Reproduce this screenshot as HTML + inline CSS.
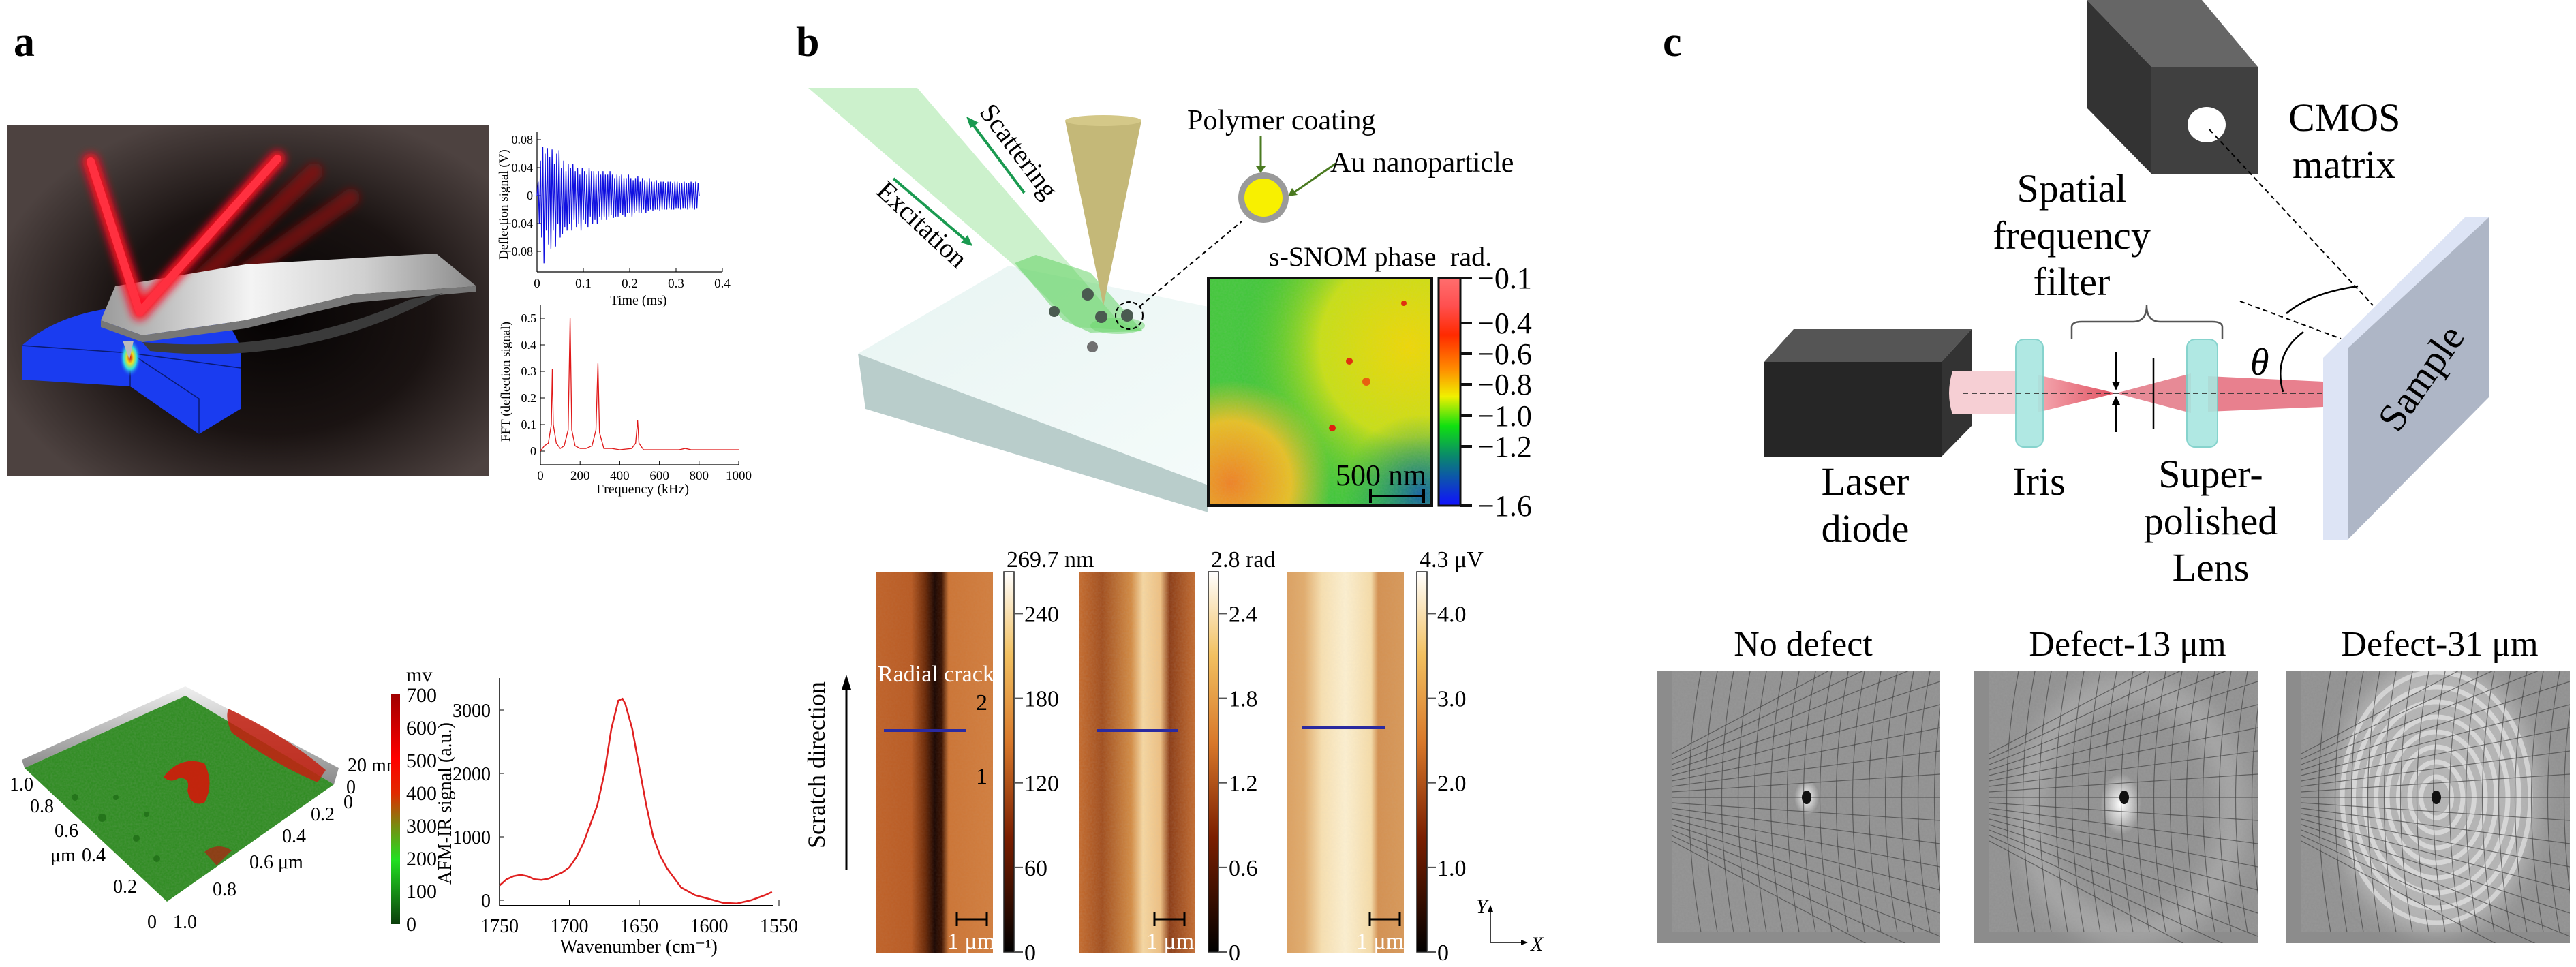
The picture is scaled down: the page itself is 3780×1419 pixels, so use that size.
<!DOCTYPE html>
<html><head><meta charset="utf-8"><style>
html,body{margin:0;padding:0;background:#fff;font-family:"Liberation Serif",serif;}
svg{display:block;}
svg text{font-family:"Liberation Serif",serif;}
</style></head><body>
<svg id="fig" width="3780" height="1419" viewBox="0 0 3780 1419" xmlns="http://www.w3.org/2000/svg" font-family="Liberation Serif, serif">
<defs>
<radialGradient id="bgA" cx="0.55" cy="0.55" r="0.6"><stop offset="0" stop-color="#050303"/><stop offset="0.55" stop-color="#1a1312"/><stop offset="1" stop-color="#4d4240"/></radialGradient>
<linearGradient id="cantTop" x1="0" y1="0" x2="1" y2="0"><stop offset="0" stop-color="#9a9a9a"/><stop offset="0.4" stop-color="#f4f4f4"/><stop offset="0.7" stop-color="#d0d0d0"/><stop offset="1" stop-color="#8a8a8a"/></linearGradient>
<radialGradient id="hot" cx="0.5" cy="0.5" r="0.5"><stop offset="0" stop-color="#d01010"/><stop offset="0.3" stop-color="#f0e020"/><stop offset="0.6" stop-color="#30e0e0"/><stop offset="1" stop-color="#1a3cf0" stop-opacity="0"/></radialGradient>
<linearGradient id="mvBar" x1="0" y1="1" x2="0" y2="0"><stop offset="0" stop-color="#0b3d0b"/><stop offset="0.28" stop-color="#22e022"/><stop offset="0.43" stop-color="#7a8a10"/><stop offset="0.57" stop-color="#e02a00"/><stop offset="0.72" stop-color="#ff0000"/><stop offset="1" stop-color="#a00000"/></linearGradient>
<linearGradient id="wall" x1="0" y1="0" x2="0" y2="1"><stop offset="0" stop-color="#f0f0f0"/><stop offset="1" stop-color="#8a8a8a"/></linearGradient>
<linearGradient id="snomBar" x1="0" y1="0" x2="0" y2="1"><stop offset="0" stop-color="#ff6e6e"/><stop offset="0.12" stop-color="#ff5050"/><stop offset="0.25" stop-color="#ff2a00"/><stop offset="0.4" stop-color="#ff8c00"/><stop offset="0.52" stop-color="#f0f000"/><stop offset="0.65" stop-color="#10e010"/><stop offset="0.78" stop-color="#0a8a6a"/><stop offset="1" stop-color="#1010ff"/></linearGradient>
<linearGradient id="afmBar" x1="0" y1="1" x2="0" y2="0"><stop offset="0" stop-color="#000"/><stop offset="0.3" stop-color="#7a1e00"/><stop offset="0.55" stop-color="#d8782a"/><stop offset="0.78" stop-color="#f2c060"/><stop offset="1" stop-color="#fff"/></linearGradient>
<linearGradient id="m1" x1="0" y1="0" x2="1" y2="0"><stop offset="0" stop-color="#c06228"/><stop offset="0.3" stop-color="#b85a22"/><stop offset="0.42" stop-color="#6a2806"/><stop offset="0.5" stop-color="#1a0500"/><stop offset="0.56" stop-color="#3a1200"/><stop offset="0.62" stop-color="#cc7434"/><stop offset="1" stop-color="#d27e3e"/></linearGradient>
<linearGradient id="m2" x1="0" y1="0" x2="1" y2="0"><stop offset="0" stop-color="#c66a2a"/><stop offset="0.2" stop-color="#a04a18"/><stop offset="0.45" stop-color="#d48a40"/><stop offset="0.55" stop-color="#f8d8a0"/><stop offset="0.7" stop-color="#f0c080"/><stop offset="0.78" stop-color="#8a3810"/><stop offset="1" stop-color="#c46a2c"/></linearGradient>
<linearGradient id="m3" x1="0" y1="0" x2="1" y2="0"><stop offset="0" stop-color="#dca060"/><stop offset="0.15" stop-color="#e2ac6c"/><stop offset="0.3" stop-color="#f8e0b0"/><stop offset="0.5" stop-color="#fdf0d0"/><stop offset="0.72" stop-color="#f6dca8"/><stop offset="0.78" stop-color="#d49050"/><stop offset="1" stop-color="#d89858"/></linearGradient>
<radialGradient id="snomA" cx="0.9" cy="0.3" r="0.8"><stop offset="0" stop-color="#f0d800"/><stop offset="0.5" stop-color="#c8e010"/><stop offset="1" stop-color="#20c030" stop-opacity="0"/></radialGradient>
<radialGradient id="snomB" cx="0.1" cy="0.9" r="0.45"><stop offset="0" stop-color="#f08020"/><stop offset="0.6" stop-color="#e8c020"/><stop offset="1" stop-color="#e8c020" stop-opacity="0"/></radialGradient>
<radialGradient id="snomC" cx="0.95" cy="0.95" r="0.35"><stop offset="0" stop-color="#1060a0"/><stop offset="1" stop-color="#10a060" stop-opacity="0"/></radialGradient>
<linearGradient id="blockTop" x1="0" y1="0" x2="1" y2="1"><stop offset="0" stop-color="#e8f4f2"/><stop offset="1" stop-color="#f4fbfa"/></linearGradient>
<linearGradient id="beamRed" x1="0" y1="0" x2="1" y2="0"><stop offset="0" stop-color="#f4a8b0"/><stop offset="1" stop-color="#e05060"/></linearGradient>
<radialGradient id="spot1" cx="0.5" cy="0.5" r="0.5"><stop offset="0" stop-color="#fff"/><stop offset="1" stop-color="#fff" stop-opacity="0"/></radialGradient>
<filter id="noise" x="0" y="0" width="1" height="1"><feTurbulence type="fractalNoise" baseFrequency="0.35" numOctaves="2" seed="3"/><feColorMatrix type="matrix" values="0 0 0 0 0.5  0 0 0 0 0.5  0 0 0 0 0.5  0 0 0 0.35 0"/><feComposite in2="SourceGraphic" operator="in"/></filter>
<filter id="blur6"><feGaussianBlur stdDeviation="6"/></filter>
<filter id="blur15"><feGaussianBlur stdDeviation="15"/></filter>
<clipPath id="cpS"><rect x="1773" y="408" width="328" height="334"/></clipPath>
<clipPath id="cpC0"><rect x="2431" y="985" width="416" height="399"/></clipPath>
<clipPath id="cpC1"><rect x="2897" y="985" width="416" height="399"/></clipPath>
<clipPath id="cpC2"><rect x="3355" y="985" width="416" height="399"/></clipPath>
</defs>

<text x="20" y="82" font-size="62" font-weight="bold">a</text>
<text x="1168" y="82" font-size="62" font-weight="bold">b</text>
<text x="2440" y="82" font-size="62" font-weight="bold">c</text>

<g>
<rect x="11" y="183" width="706" height="516" fill="url(#bgA)"/>
<path d="M32,507 Q120,430 300,455 Q360,480 353,540 L353,600 L292,637 L191,567 L32,557 Z" fill="#1a3cf0"/>
<path d="M32,507 L191,518 L353,540 M191,518 L191,567 M191,518 L292,585 L292,637" stroke="#0a1a70" stroke-width="1.5" fill="none"/>
<ellipse cx="191" cy="525" rx="16" ry="28" fill="url(#hot)"/>
<g filter="url(#blur6)"><line x1="461" y1="252" x2="230" y2="470" stroke="#8a1010" stroke-width="26" stroke-linecap="round" opacity="0.8"/><line x1="515" y1="290" x2="260" y2="470" stroke="#8a1010" stroke-width="26" stroke-linecap="round" opacity="0.7"/></g>
<path d="M148,470 L169,420 L360,388 L640,372 L699,420 L520,432 L360,470 L209,492 Z" fill="url(#cantTop)"/>
<path d="M148,470 L209,492 L360,470 L520,432 L699,420 L699,428 L520,444 L360,482 L209,502 L148,480 Z" fill="#777"/>
<path d="M209,502 Q420,520 600,440 L650,430 Q450,540 220,515 Z" fill="#3a3a3a"/>
<polygon points="180,500 196,500 190,528" fill="#bbb"/>
<g filter="url(#blur6)"><line x1="133" y1="237" x2="205" y2="458" stroke="#ff1020" stroke-width="24" stroke-linecap="round"/><line x1="407" y1="233" x2="205" y2="458" stroke="#ff1020" stroke-width="24" stroke-linecap="round"/></g>
<line x1="133" y1="237" x2="205" y2="458" stroke="#ff3040" stroke-width="12" stroke-linecap="round"/>
<line x1="407" y1="233" x2="205" y2="458" stroke="#ff3040" stroke-width="12" stroke-linecap="round"/>
</g>

<g id="defl"></g>
<g id="fft"></g>

<g>
<polygon points="32,1115 272,1007 272,1021 36,1127" fill="url(#wall)"/>
<polygon points="272,1007 497,1127 490,1151 272,1021" fill="url(#wall)"/>
<polygon points="36,1127 272,1021 490,1151 245,1323" fill="#2a8a1c"/>
<polygon points="36,1127 272,1021 490,1151 245,1323" fill="#3aa020" filter="url(#noise)" opacity="0.6"/>
<g fill="#1c6a14" opacity="0.7"><circle cx="110" cy="1170" r="5"/><circle cx="150" cy="1200" r="6"/><circle cx="200" cy="1230" r="5"/><circle cx="170" cy="1170" r="4"/><circle cx="230" cy="1260" r="5"/><circle cx="215" cy="1195" r="4"/></g>
<path d="M335,1040 Q420,1080 478,1130 L466,1148 Q400,1120 340,1075 Q330,1055 335,1040 Z" fill="#c42010" opacity="0.85"/>
<path d="M240,1140 Q265,1108 300,1120 Q315,1150 300,1178 Q280,1185 275,1160 Q280,1140 262,1142 Q250,1150 240,1140 Z" fill="#d01a0a" opacity="0.9"/>
<path d="M300,1250 Q320,1235 340,1248 L318,1270 Z" fill="#b02010" opacity="0.7"/>
<g font-size="28" fill="#000">
<text x="14" y="1160">1.0</text><text x="44" y="1192">0.8</text><text x="80" y="1228">0.6</text><text x="74" y="1264">μm</text><text x="120" y="1264">0.4</text><text x="166" y="1310">0.2</text><text x="216" y="1362">0</text><text x="254" y="1362">1.0</text>
<text x="456" y="1204">0.2</text><text x="414" y="1236">0.4</text><text x="366" y="1274">0.6 μm</text><text x="312" y="1314">0.8</text>
<text x="510" y="1132">20 mm</text><text x="508" y="1164">0</text><text x="504" y="1186">0</text>
</g>
<rect x="574" y="1019" width="13" height="337" fill="url(#mvBar)"/>
<g font-size="30" fill="#000">
<text x="596" y="1000">mv</text>
<text x="596" y="1030">700</text><text x="596" y="1078">600</text><text x="596" y="1126">500</text><text x="596" y="1174">400</text><text x="596" y="1222">300</text><text x="596" y="1270">200</text><text x="596" y="1318">100</text><text x="596" y="1366">0</text>
</g>
</g>
<g id="afmir"></g>

<g>
<polygon points="1259,519 1480,390 1773,450 1773,712" fill="url(#blockTop)"/>
<polygon points="1259,519 1773,712 1773,752 1270,600" fill="#b9cdcb"/>
<polygon points="1186,129 1346,129 1640,470 1677,486 1579,480 1489,390" fill="#8fe08f" opacity="0.45"/>
<polygon points="1489,386 1520,374 1600,400 1677,486 1600,488 1560,470" fill="#5ad05a" opacity="0.5"/>
<ellipse cx="1640" cy="478" rx="40" ry="12" fill="#6ad66a" opacity="0.5"/>
<polygon points="1563,177 1675,177 1619,449" fill="#c4b878"/>
<ellipse cx="1619" cy="177" rx="56" ry="8" fill="#d4c888"/>
<g fill="#4a5a50"><circle cx="1596" cy="432" r="9"/><circle cx="1547" cy="457" r="8"/><circle cx="1616" cy="465" r="9"/><circle cx="1654" cy="463" r="9"/><circle cx="1603" cy="509" r="8" fill="#707070"/></g>
<circle cx="1657" cy="463" r="20" fill="none" stroke="#000" stroke-width="2" stroke-dasharray="6,4"/>
<line x1="1672" y1="450" x2="1822" y2="325" stroke="#000" stroke-width="2" stroke-dasharray="7,5"/>
<line x1="1503" y1="283" x2="1424" y2="178" stroke="#1a9a50" stroke-width="4"/><polygon points="1418,171 1436,180 1424,188" fill="#1a9a50"/>
<line x1="1311" y1="262" x2="1420" y2="355" stroke="#1a9a50" stroke-width="4"/><polygon points="1427,361 1410,356 1420,345" fill="#1a9a50"/>
<text x="1436" y="165" font-size="40" transform="rotate(53 1436 165)">Scattering</text>
<text x="1284" y="283" font-size="40" transform="rotate(43 1284 283)">Excitation</text>
<circle cx="1854" cy="290" r="37" fill="#9a9a9a"/><circle cx="1854" cy="290" r="28" fill="#f8f000"/>
<line x1="1850" y1="200" x2="1850" y2="248" stroke="#4a7a20" stroke-width="3"/><polygon points="1843,244 1857,244 1850,254" fill="#4a7a20"/>
<line x1="1960" y1="240" x2="1898" y2="283" stroke="#4a7a20" stroke-width="3"/><polygon points="1890,288 1896,276 1904,286" fill="#4a7a20"/>
<text x="1742" y="190" font-size="42">Polymer coating</text>
<text x="1952" y="252" font-size="42">Au nanoparticle</text>
</g>
<g>
<text x="1862" y="390" font-size="40">s-SNOM phase</text>
<text x="2128" y="390" font-size="40">rad.</text>
<g clip-path="url(#cpS)">
<rect x="1773" y="408" width="328" height="334" fill="#40c838"/>
<rect x="1773" y="408" width="328" height="334" fill="url(#snomA)"/>
<rect x="1773" y="408" width="328" height="334" fill="url(#snomB)"/>
<rect x="1773" y="408" width="328" height="334" fill="url(#snomC)"/>
<rect x="1773" y="408" width="328" height="334" fill="#888" filter="url(#noise)" opacity="0.5"/>
<circle cx="2060" cy="445" r="4" fill="#e03010"/><circle cx="1980" cy="530" r="5" fill="#e03010"/><circle cx="2005" cy="560" r="6" fill="#e86010"/><circle cx="1955" cy="628" r="5" fill="#e02010"/>
</g>
<rect x="1773" y="408" width="328" height="334" fill="none" stroke="#111" stroke-width="4"/>
<text x="1960" y="712" font-size="44">500 nm</text>
<path d="M2011,728 L2089,728 M2011,718 L2011,738 M2089,718 L2089,738" stroke="#000" stroke-width="4"/>
<rect x="2111" y="408" width="32" height="334" fill="url(#snomBar)" stroke="#111" stroke-width="3"/>
<g stroke="#111" stroke-width="4">
<line x1="2143" y1="408" x2="2160" y2="408"/><line x1="2143" y1="474" x2="2160" y2="474"/><line x1="2143" y1="519" x2="2160" y2="519"/><line x1="2143" y1="564" x2="2160" y2="564"/><line x1="2143" y1="610" x2="2160" y2="610"/><line x1="2143" y1="655" x2="2160" y2="655"/><line x1="2143" y1="742" x2="2160" y2="742"/>
</g>
<g font-size="44" fill="#000">
<text x="2168" y="423">−0.1</text><text x="2168" y="489">−0.4</text><text x="2168" y="534">−0.6</text><text x="2168" y="579">−0.8</text><text x="2168" y="625">−1.0</text><text x="2168" y="670">−1.2</text><text x="2168" y="757">−1.6</text>
</g>
</g>

<g>
<line x1="1242" y1="1276" x2="1242" y2="1010" stroke="#000" stroke-width="3"/><polygon points="1235,1012 1249,1012 1242,990" fill="#000"/>
<text x="1210" y="1245" font-size="36" transform="rotate(-90 1210 1245)">Scratch direction</text>
<rect x="1286" y="839" width="171" height="559" fill="url(#m1)"/>
<rect x="1286" y="839" width="171" height="559" fill="#888" filter="url(#noise)" opacity="0.25"/>
<rect x="1583" y="839" width="171" height="559" fill="url(#m2)"/>
<rect x="1583" y="839" width="171" height="559" fill="#888" filter="url(#noise)" opacity="0.5"/>
<rect x="1888" y="839" width="172" height="559" fill="url(#m3)"/>
<rect x="1888" y="839" width="172" height="559" fill="#888" filter="url(#noise)" opacity="0.3"/>
<text x="1288" y="1000" font-size="34" fill="#fff">Radial crack</text>
<text x="1432" y="1042" font-size="34">2</text><text x="1432" y="1150" font-size="34">1</text>
<line x1="1297" y1="1072" x2="1417" y2="1072" stroke="#2a2aa0" stroke-width="4"/>
<line x1="1609" y1="1072" x2="1729" y2="1072" stroke="#2a2aa0" stroke-width="4"/>
<line x1="1910" y1="1068" x2="2032" y2="1068" stroke="#2a2aa0" stroke-width="4"/>
<g stroke="#000" stroke-width="3"><path d="M1404,1349 L1448,1349 M1404,1339 L1404,1359 M1448,1339 L1448,1359"/><path d="M1694,1349 L1738,1349 M1694,1339 L1694,1359 M1738,1339 L1738,1359"/><path d="M2010,1349 L2054,1349 M2010,1339 L2010,1359 M2054,1339 L2054,1359"/></g>
<g font-size="34" fill="#fff"><text x="1390" y="1392">1 μm</text><text x="1682" y="1392">1 μm</text><text x="1990" y="1392">1 μm</text></g>
<g id="afmbars"></g>
<line x1="2187" y1="1383" x2="2187" y2="1335" stroke="#000" stroke-width="1.5"/><polygon points="2183,1338 2191,1338 2187,1328" fill="#000"/>
<line x1="2187" y1="1383" x2="2234" y2="1383" stroke="#000" stroke-width="1.5"/><polygon points="2232,1379 2232,1387 2242,1383" fill="#000"/>
<text x="2166" y="1340" font-size="30" font-style="italic">Y</text><text x="2246" y="1395" font-size="30" font-style="italic">X</text>
</g>

<g>
<polygon points="3062,0 3231,0 3313,98 3157,98" fill="#666"/>
<polygon points="3062,0 3157,98 3157,255 3062,158" fill="#333"/>
<rect x="3157" y="98" width="156" height="157" fill="#404040"/>
<ellipse cx="3238" cy="183" rx="28" ry="26" fill="#fff"/>
<text x="3358" y="192" font-size="58">CMOS</text><text x="3364" y="261" font-size="58">matrix</text>
<line x1="3242" y1="190" x2="3482" y2="448" stroke="#000" stroke-width="2" stroke-dasharray="7,5"/>
<line x1="3287" y1="442" x2="3435" y2="497" stroke="#000" stroke-width="2" stroke-dasharray="7,5"/>
<text x="3040" y="296" font-size="58" text-anchor="middle">Spatial</text>
<text x="3040" y="365" font-size="58" text-anchor="middle">frequency</text>
<text x="3040" y="433" font-size="58" text-anchor="middle">filter</text>
<path d="M3040,497 L3040,480 Q3040,472 3055,472 L3130,472 Q3150,472 3150,448 Q3150,472 3170,472 L3246,472 Q3261,472 3261,480 L3261,497" fill="none" stroke="#555" stroke-width="2.5"/>
<polygon points="2589,531 2632,483 2893,483 2849,531" fill="#555"/>
<polygon points="2849,531 2893,483 2893,625 2849,670" fill="#333"/>
<rect x="2589" y="531" width="260" height="139" fill="#262626"/>
<path d="M2865,545 L2960,545 L2960,608 L2865,608 Q2855,577 2865,545 Z" fill="#f6cfd4"/>
<polygon points="2990,550 3105,577 2990,605" fill="url(#beamRed)"/>
<polygon points="3105,577 3215,548 3215,606" fill="#e78a96"/>
<polygon points="3240,552 3409,560 3409,597 3240,604" fill="#e8808e"/>
<rect x="2958" y="498" width="40" height="158" rx="12" fill="#a8e6e0" stroke="#7acfc8" stroke-width="2" opacity="0.9"/>
<rect x="3209" y="498" width="45" height="158" rx="12" fill="#a8e6e0" stroke="#7acfc8" stroke-width="2" opacity="0.9"/>
<line x1="2880" y1="577" x2="3409" y2="577" stroke="#333" stroke-width="1.8" stroke-dasharray="8,5"/>
<g stroke="#000" stroke-width="2.5"><line x1="3105" y1="517" x2="3105" y2="570"/><line x1="3105" y1="584" x2="3105" y2="634"/><line x1="3160" y1="525" x2="3160" y2="629"/></g>
<polygon points="3099,560 3111,560 3105,573" fill="#000"/><polygon points="3099,594 3111,594 3105,581" fill="#000"/>
<polygon points="3409,525 3617,319 3652,319 3445,511 3445,792 3409,792" fill="#dde4f5"/>
<polygon points="3445,511 3652,319 3652,583 3445,792" fill="#aeb6c6"/>
<text x="3552" y="574" font-size="58" text-anchor="middle" transform="rotate(-55 3552 554)">Sample</text>
<path d="M3355,460 Q3390,430 3460,420" fill="none" stroke="#000" stroke-width="2.5"/>
<path d="M3350,575 Q3335,520 3380,487" fill="none" stroke="#000" stroke-width="2.5"/>
<text x="3302" y="550" font-size="56" font-style="italic">θ</text>
<text x="2737" y="726" font-size="58" text-anchor="middle">Laser</text><text x="2737" y="795" font-size="58" text-anchor="middle">diode</text>
<text x="2992" y="726" font-size="58" text-anchor="middle">Iris</text>
<text x="3244" y="715" font-size="58" text-anchor="middle">Super-</text><text x="3244" y="784" font-size="58" text-anchor="middle">polished</text><text x="3244" y="852" font-size="58" text-anchor="middle">Lens</text>
</g>

<g font-size="52" text-anchor="middle">
<text x="2646" y="962">No defect</text>
<text x="3122" y="962">Defect-13 μm</text>
<text x="3580" y="962">Defect-31 μm</text>
</g>
<g id="cimgs"></g>

<script>
const deflStep = 0.0025;
const deflValues = [0,0.02,-0.04,0.05,-0.06,0.07,-0.097,0.06,-0.05,0.068,
-0.07,0.055,-0.076,0.066,-0.05,0.045,-0.073,0.06,-0.04,0.065,
-0.06,0.04,-0.055,0.05,-0.045,0.035,-0.05,0.045,-0.04,0.04,
-0.05,0.045,-0.035,0.035,-0.045,0.04,-0.04,0.03,-0.05,0.04,
-0.035,0.035,-0.04,0.03,-0.045,0.04,-0.03,0.035,-0.04,0.035,
-0.035,0.03,-0.04,0.035,-0.03,0.03,-0.035,0.035,-0.03,0.03,
-0.035,0.03,-0.03,0.035,-0.028,0.03,-0.032,0.025,-0.03,0.03,
-0.03,0.028,-0.025,0.03,-0.028,0.025,-0.03,0.025,-0.025,0.03,
-0.025,0.025,-0.03,0.022,-0.025,0.025,-0.022,0.028,-0.025,0.02,
-0.025,0.025,-0.02,0.022,-0.025,0.02,-0.022,0.025,-0.02,0.02,
-0.022,0.02,-0.02,0.022,-0.02,0.018,-0.022,0.02,-0.02,0.02,
-0.02,0.018,-0.02,0.02,-0.018,0.02,-0.02,0.018,-0.02,0.02,
-0.018,0.02,-0.018,0.018,-0.02,0.018,-0.018,0.02,-0.018,0.018,
-0.02,0.018,-0.018,0.02,-0.018,0.018,-0.02,0.02,-0.018,0.018,0];
const deflXTicks = [0,0.1,0.2,0.3,0.4];
const deflYTicks = [0.08,0.04,0,-0.04,-0.08];
const deflYLabels = ["0.08","0.04","0","−0.04","−0.08"];
const fftFreq = [0,20,40,55,60,65,80,100,120,140,150,158,175,200,230,260,280,290,298,320,360,400,460,480,490,497,520,600,700,730,760,850,1000];
const fftAmp = [0,0.02,0.03,0.1,0.31,0.1,0.03,0.01,0.02,0.08,0.5,0.08,0.02,0.01,0.01,0.02,0.08,0.33,0.07,0.01,0.01,0.005,0.01,0.03,0.115,0.03,0.005,0.005,0.005,0.01,0.005,0.005,0.005];
const fftXTicks = [0,200,400,600,800,1000];
const fftYTicks = [0,0.1,0.2,0.3,0.4,0.5];
const irWave = [1750,1745,1740,1735,1730,1725,1720,1715,1710,1705,1700,1695,1690,1685,1680,1675,1670,1665,1662,1660,1655,1650,1645,1640,1635,1630,1620,1610,1600,1590,1580,1570,1560,1555];
const irSignal = [230,330,380,400,380,330,320,340,390,440,520,680,900,1200,1500,2000,2700,3150,3180,3100,2700,2100,1500,1000,700,500,200,80,20,-40,-50,0,80,130];
const irXTicks = [1750,1700,1650,1600,1550];
const irYTicks = [0,1000,2000,3000];
const afmBarTicks = [0,60,120,180,240];
const afmBarLabels = [["0","60","120","180","240"],["0","0.6","1.2","1.8","2.4"],["0","1.0","2.0","3.0","4.0"]];
const afmBarTitles = ["269.7 nm","2.8 rad","4.3 μV"];

const NS="http://www.w3.org/2000/svg";
function mk(tag,attrs,parent){const e=document.createElementNS(NS,tag);for(const k in attrs)e.setAttribute(k,attrs[k]);parent.appendChild(e);return e;}
function txt(parent,x,y,s,size,anchor){const t=mk('text',{x:x,y:y,'font-size':size,'text-anchor':anchor||'middle'},parent);t.textContent=s;return t;}

(function(){
 const g=document.getElementById('defl');
 const X=t=>788+t/0.4*272, Y=v=>287-v*1025;
 mk('line',{x1:788,y1:193,x2:788,y2:399,stroke:'#000','stroke-width':1.2},g);
 mk('line',{x1:788,y1:399,x2:1060,y2:399,stroke:'#000','stroke-width':1.2},g);
 deflXTicks.forEach(t=>{mk('line',{x1:X(t),y1:399,x2:X(t),y2:393,stroke:'#000'},g);txt(g,X(t),422,String(t),19);});
 deflYTicks.forEach((v,i)=>{mk('line',{x1:788,y1:Y(v),x2:794,y2:Y(v),stroke:'#000'},g);txt(g,782,Y(v)+6,deflYLabels[i],18,'end');});
 let d='';deflValues.forEach((v,i)=>{d+=(i?'L':'M')+X(i*deflStep).toFixed(1)+','+Y(v).toFixed(1);});
 const p=mk('path',{d:d,fill:'none',stroke:'#1010e0','stroke-width':1.3},g);
 
 
 txt(g,937,447,'Time (ms)',20);
 const t=txt(g,745,300,'Deflection signal (V)',19);t.setAttribute('transform','rotate(-90 745 300)');
})();
(function(){
 const g=document.getElementById('fft');
 const X=f=>793+f/1000*291, Y=v=>662-v*390;
 mk('line',{x1:793,y1:447,x2:793,y2:682,stroke:'#000','stroke-width':1.2},g);
 mk('line',{x1:793,y1:682,x2:1084,y2:682,stroke:'#000','stroke-width':1.2},g);
 fftXTicks.forEach(f=>{mk('line',{x1:X(f),y1:682,x2:X(f),y2:676,stroke:'#000'},g);txt(g,X(f),704,String(f),19);});
 fftYTicks.forEach(v=>{mk('line',{x1:793,y1:Y(v),x2:799,y2:Y(v),stroke:'#000'},g);txt(g,787,Y(v)+6,String(v),18,'end');});
 let d='';fftFreq.forEach((f,i)=>{d+=(i?'L':'M')+X(f).toFixed(1)+','+Y(fftAmp[i]).toFixed(1);});
 const p=mk('path',{d:d,fill:'none',stroke:'#e01818','stroke-width':1.3},g);
 
 
 txt(g,943,724,'Frequency (kHz)',20);
 const t=txt(g,748,560,'FFT (deflection signal)',19);t.setAttribute('transform','rotate(-90 748 560)');
})();
(function(){
 const g=document.getElementById('afmir');
 const X=w=>733+(1750-w)/50*102.5, Y=v=>1321-v*0.093;
 mk('line',{x1:733,y1:995,x2:733,y2:1329,stroke:'#000','stroke-width':1.5},g);
 mk('line',{x1:733,y1:1329,x2:1135,y2:1329,stroke:'#000','stroke-width':2},g);
 irXTicks.forEach(w=>{mk('line',{x1:X(w),y1:1329,x2:X(w),y2:1321,stroke:'#000'},g);txt(g,X(w),1368,String(w),28);});
 irYTicks.forEach(v=>{mk('line',{x1:733,y1:Y(v),x2:740,y2:Y(v),stroke:'#000'},g);txt(g,720,Y(v)+10,String(v),28,'end');});
 let d='';irWave.forEach((w,i)=>{d+=(i?'L':'M')+X(w).toFixed(1)+','+Y(irSignal[i]).toFixed(1);});
 const p=mk('path',{d:d,fill:'none',stroke:'#e02020','stroke-width':2.5},g);
 
 
 txt(g,937,1398,'Wavenumber (cm⁻¹)',28);
 const t=txt(g,662,1179,'AFM-IR signal (a.u.)',28);t.setAttribute('transform','rotate(-90 662 1179)');
})();
(function(){
 const g=document.getElementById('afmbars');
 const xs=[1473,1773,2079];
 const Y=v=>1397-v*2.069;
 xs.forEach((x,k)=>{
  const r=mk('rect',{x:x,y:839,width:15,height:558,fill:'url(#afmBar)',stroke:'#222','stroke-width':1.5},g);
  
  
  afmBarTicks.forEach((v,i)=>{mk('line',{x1:x+15,y1:Y(v),x2:x+28,y2:Y(v),stroke:'#555','stroke-width':2},g);txt(g,x+30,Y(v)+12,afmBarLabels[k][i],34,'start');});
  txt(g,x+4,832,afmBarTitles[k],34,'start');
 });
})();
(function(){
 const g=document.getElementById('cimgs');
 const xs=[2431,2897,3355], W=416, H=399, Y0=985;
 xs.forEach((x,k)=>{
  const im=mk('g',{'clip-path':'url(#cpC'+k+')'},g);
  
  
  mk('rect',{x:x,y:Y0,width:W,height:H,fill:'#8c8c8c'},im);
  mk('rect',{x:x+22,y:Y0,width:W-22,height:H-16,fill:'#909090'},im);
  mk('rect',{x:x+22,y:Y0,width:W-22,height:H-16,fill:'#999',filter:'url(#noise)',opacity:0.5},im);
  const cx=x+220, cy=Y0+185;
  if(k==1){mk('ellipse',{cx:cx+10,cy:cy+20,rx:150,ry:180,fill:'none',stroke:'#c0c0c0','stroke-width':40,opacity:0.45,filter:'url(#blur15)'},im);
           mk('ellipse',{cx:cx-5,cy:cy+10,rx:30,ry:45,fill:'url(#spot1)'},im);}
  if(k==2){mk('ellipse',{cx:cx,cy:cy,rx:150,ry:200,fill:'#d0d0d0',opacity:0.55,filter:'url(#blur15)'},im);
           for(let r=30;r<190;r+=22){mk('ellipse',{cx:cx,cy:cy,rx:r*0.75,ry:r,fill:'none',stroke:'#fff','stroke-width':7,opacity:0.45},im);}}
  if(k==0){mk('ellipse',{cx:cx,cy:cy,rx:18,ry:26,fill:'url(#spot1)'},im);}
  for(let i=-8;i<=8;i++){mk('line',{x1:x+22,y1:cy+i*8,x2:x+W,y2:cy+i*34,stroke:'#444','stroke-width':1.2,opacity:0.7},im);}
  for(let j=0;j<16;j++){const xx=x+40+j*24;mk('path',{d:`M${xx+25},${Y0} Q${xx-10},${cy} ${xx+25},${Y0+H-16}`,fill:'none',stroke:'#444','stroke-width':1.2,opacity:0.7},im);}
  mk('ellipse',{cx:cx,cy:cy,rx:7,ry:10,fill:'#111'},im);
 });
})();
</script>
</svg>
</body></html>
